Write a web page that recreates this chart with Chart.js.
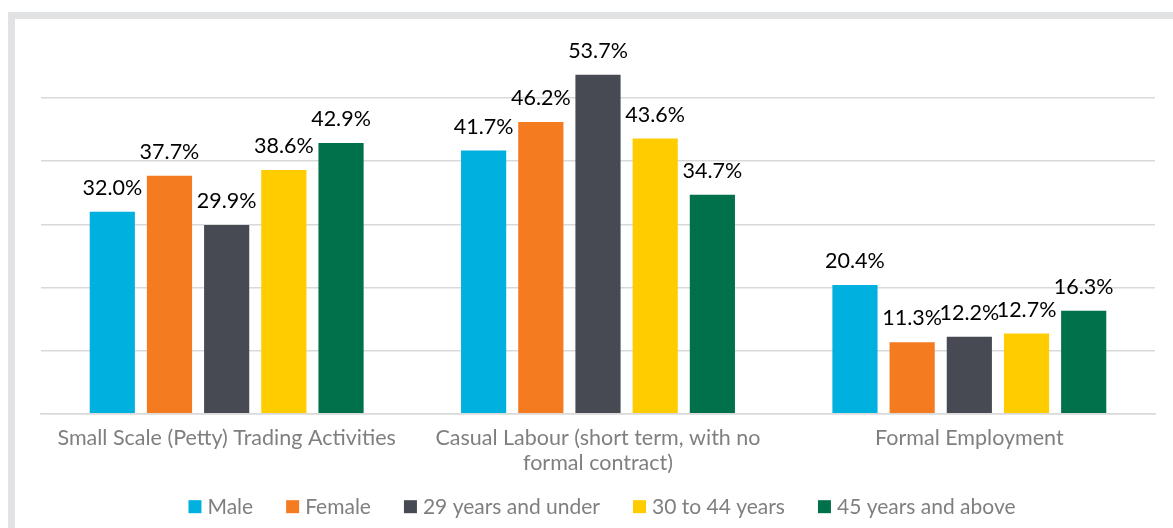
<!DOCTYPE html>
<html>
<head>
<meta charset="utf-8">
<script src="https://cdn.jsdelivr.net/npm/chart.js@4"></script>
<style>
  html, body { margin:0; padding:0; background:#fff; }
  #wrap { position:relative; width:1173px; height:528px; overflow:hidden; }
  #frame { position:absolute; left:8px; top:12px; width:1300px; height:700px; border:7px solid #e1e2e3; box-sizing:border-box; }
  canvas { position:absolute; left:0; top:0; }
</style>
</head>
<body>
<div id="wrap">
  <div id="frame"></div>
  <canvas id="c" width="1173" height="528"></canvas>
</div>
<script>
const categories = [
  "Small Scale (Petty) Trading Activities",
  ["Casual Labour (short term, with no", "formal contract)"],
  "Formal Employment"
];
const seriesNames = ["Male", "Female", "29 years and under", "30 to 44 years", "45 years and above"];
const male = [32.0, 41.7, 20.4];
const female = [37.7, 46.2, 11.3];
const under29 = [29.9, 53.7, 12.2];
const age30to44 = [38.6, 43.6, 12.7];
const age45plus = [42.9, 34.7, 16.3];
const colors = ["#00b0df", "#f47b20", "#474a53", "#ffcc00", "#00714a"];
const seriesValues = [male, female, under29, age30to44, age45plus];

const labelPlugin = {
  id: 'valueLabels',
  afterDatasetsDraw(chart) {
    const ctx = chart.ctx;
    ctx.save();
    ctx.font = '21.5px Lato';
    ctx.fillStyle = '#000';
    ctx.textAlign = 'center';
    ctx.textBaseline = 'alphabetic';
    chart.data.datasets.forEach((ds, i) => {
      const meta = chart.getDatasetMeta(i);
      meta.data.forEach((bar, j) => {
        ctx.fillText(ds.data[j].toFixed(1) + '%', bar.x, bar.y - 17);
      });
    });
    ctx.restore();
  }
};

const legendPlugin = {
  id: 'customLegend',
  afterDraw(chart) {
    const ctx = chart.ctx;
    const ca = chart.chartArea;
    ctx.save();
    ctx.font = '21px Lato';
    const box = 13, gapBox = 6, gapItem = 33;
    const items = chart.data.datasets.map(ds => ({ text: ds.label, color: ds.backgroundColor, w: ctx.measureText(ds.label).width }));
    let total = 0;
    items.forEach((it, i) => { total += box + gapBox + it.w + (i < items.length - 1 ? gapItem : 0); });
    let x = (ca.left + ca.right) / 2 + 4 - total / 2;
    const yc = ca.bottom + 93;
    ctx.textBaseline = 'middle';
    ctx.textAlign = 'left';
    items.forEach(it => {
      ctx.fillStyle = it.color;
      ctx.fillRect(x, yc - box / 2, box, box);
      x += box + gapBox;
      ctx.fillStyle = '#7f7f7f';
      ctx.fillText(it.text, x, yc + 1);
      x += it.w + gapItem;
    });
    ctx.restore();
  }
};

new Chart(document.getElementById('c'), {
  type: 'bar',
  data: {
    labels: categories,
    datasets: seriesNames.map((n, i) => ({
      label: n,
      data: seriesValues[i],
      backgroundColor: colors[i],
      barPercentage: 0.79,
      categoryPercentage: 0.77
    }))
  },
  options: {
    responsive: false,
    animation: false,
    layout: { padding: { left: 41, right: 18, top: 35, bottom: 40 } },
    plugins: {
      legend: { display: false },
      tooltip: { enabled: false }
    },
    scales: {
      x: {
        grid: { display: false, drawTicks: false },
        border: { display: true, color: '#d9d9d9', width: 1.5 },
        ticks: { font: { family: 'Lato', size: 21.5, lineHeight: 1.17 }, color: '#7f7f7f', maxRotation: 0, padding: 12 }
      },
      y: {
        min: 0, max: 60,
        grid: { color: (c) => (c.tick && c.tick.value === 60) ? 'rgba(0,0,0,0)' : '#d9d9d9', lineWidth: 1.5, drawTicks: false },
        border: { display: false },
        ticks: { display: false, stepSize: 10 }
      }
    }
  },
  plugins: [labelPlugin, legendPlugin]
});
</script>
</body>
</html>
